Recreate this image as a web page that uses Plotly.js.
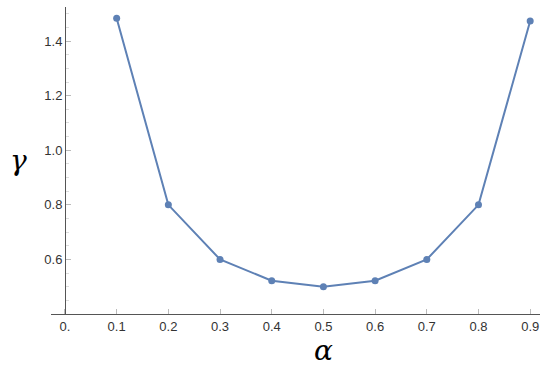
<!DOCTYPE html>
<html>
<head>
<meta charset="utf-8">
<script src="https://cdn.plot.ly/plotly-3.0.1.min.js"></script>
<style>
  html, body { margin: 0; padding: 0; background: #fff; }
  #plot { width: 555px; height: 371px; }
</style>
</head>
<body>
<div id="plot"></div>
<script>
var alpha = [0.1, 0.2, 0.3, 0.4, 0.5, 0.6, 0.7, 0.8, 0.9];
var gamma = [1.484, 0.80, 0.60, 0.522, 0.50, 0.522, 0.60, 0.80, 1.474];

var xTickVals = [0, 0.1, 0.2, 0.3, 0.4, 0.5, 0.6, 0.7, 0.8, 0.9];
var xTickText = ['0.', '0.1', '0.2', '0.3', '0.4', '0.5', '0.6', '0.7', '0.8', '0.9'];
var yTickVals = [0.6, 0.8, 1.0, 1.2, 1.4];
var yTickText = ['0.6', '0.8', '1.0', '1.2', '1.4'];

var trace = {
  x: alpha,
  y: gamma,
  type: 'scatter',
  mode: 'lines+markers',
  line: {color: '#5E81B5', width: 2},
  marker: {color: '#5E81B5', size: 7},
  hoverinfo: 'none'
};

var tickFont = {family: 'Arial', size: 13, color: '#333'};
var titleFont = {family: 'DejaVu Serif', size: 28, color: '#000'};

var layout = {
  width: 555,
  height: 371,
  margin: {l: 51, r: 15, t: 7, b: 57},
  paper_bgcolor: '#fff',
  plot_bgcolor: '#fff',
  showlegend: false,
  xaxis: {
    range: [-0.027, 0.919],
    showgrid: false,
    zeroline: false,
    showline: true,
    linecolor: '#555',
    linewidth: 1,
    tickmode: 'array',
    tickvals: xTickVals,
    ticktext: xTickText,
    ticks: 'inside',
    ticklen: 5,
    tickcolor: '#bbb',
    tickfont: tickFont
  },
  yaxis: {
    range: [0.4, 1.525],
    anchor: 'free',
    position: 14 / 489,
    showgrid: false,
    zeroline: false,
    showline: true,
    linecolor: '#555',
    linewidth: 1,
    tickmode: 'array',
    tickvals: yTickVals,
    ticktext: yTickText,
    ticks: 'inside',
    ticklen: 5,
    tickcolor: '#bbb',
    tickfont: tickFont,
    minor: {dtick: 0.05, tick0: 0, ticks: 'inside', ticklen: 3, tickcolor: '#ddd', showgrid: false}
  },
  annotations: [
    {
      text: '<i>γ</i>', xref: 'paper', yref: 'paper', x: -0.066, y: 0.5,
      xanchor: 'center', yanchor: 'middle', showarrow: false,
      font: titleFont
    },
    {
      text: '<i>α</i>', xref: 'paper', yref: 'paper', x: 0.557, y: -0.12,
      xanchor: 'center', yanchor: 'middle', showarrow: false,
      font: titleFont
    }
  ]
};

Plotly.newPlot('plot', [trace], layout, {displayModeBar: false, staticPlot: true});
</script>
</body>
</html>
